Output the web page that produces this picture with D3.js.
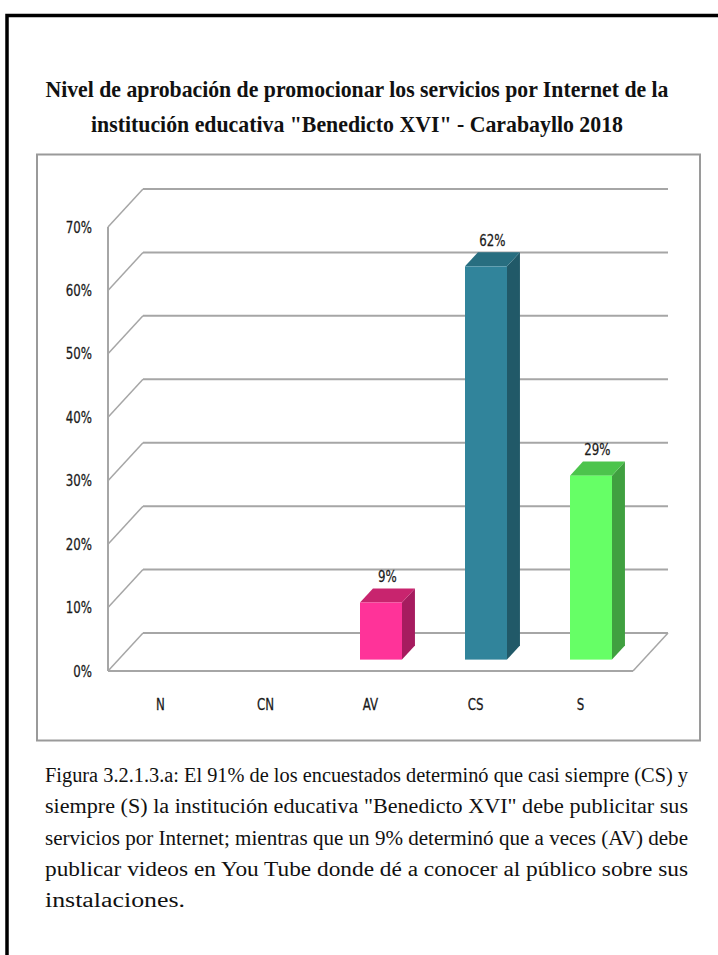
<!DOCTYPE html>
<html>
<head>
<meta charset="utf-8">
<script src="https://cdn.jsdelivr.net/npm/d3@7"></script>
<style>
html,body{margin:0;padding:0;background:#fff;}
svg{display:block;}
</style>
</head>
<body>
<svg id="chart" width="718" height="955"></svg>
<script>
const categories = ["N", "CN", "AV", "CS", "S"];
const values = [0, 0, 0.09, 0.62, 0.29];
const valueLabels = ["0%", "0%", "9%", "62%", "29%"];
const yTicks = [0, 0.1, 0.2, 0.3, 0.4, 0.5, 0.6, 0.7];
const frontColors = ["#ff3399", "#ff3399", "#ff3399", "#31849b", "#66ff66"];
const sideColors = ["#a61c5f", "#a61c5f", "#a61c5f", "#215968", "#40a040"];
const topColors = ["#c8246e", "#c8246e", "#c8246e", "#286e80", "#4cc44c"];
const titleLines = [
  "Nivel de aprobación de promocionar los servicios por Internet de la",
  "institución educativa \"Benedicto XVI\" - Carabayllo 2018"
];
const captionLines = [
  "Figura 3.2.1.3.a: El 91% de los encuestados determinó que casi siempre (CS) y",
  "siempre (S) la institución educativa \"Benedicto XVI\" debe publicitar sus",
  "servicios por Internet; mientras que un 9% determinó que a veces (AV) debe",
  "publicar videos en You Tube donde dé a conocer al público sobre sus",
  "instalaciones."
];

const svg = d3.select("#chart");

// outer frame
svg.append("path").attr("d", "M7,1000 L7,15.5 L730,15.5")
  .attr("fill", "none").attr("stroke", "#000").attr("stroke-width", 3.5);

// title
const titleW = [623, 532];
titleLines.forEach((t, i) => {
  svg.append("text")
    .attr("x", 357).attr("y", 97 + i * 35)
    .attr("text-anchor", "middle")
    .attr("font-family", "Liberation Serif, serif")
    .attr("font-weight", "bold")
    .attr("font-size", 22.5)
    .attr("textLength", titleW[i])
    .attr("lengthAdjust", "spacingAndGlyphs")
    .attr("fill", "#111")
    .text(t);
});

// chart box
svg.append("rect").attr("x", 37).attr("y", 154.5).attr("width", 663).attr("height", 586)
  .attr("fill", "#fff").attr("stroke", "#9a9a9a").attr("stroke-width", 2);

// geometry
const x0 = 108, x1 = 633;
const depthX = 35, depthY = -38;
const x = d3.scaleBand().domain(categories).range([x0, x1]).paddingInner(0).paddingOuter(0);
const y = d3.scaleLinear().domain([0, 0.7]).range([671, 227]);

const g = svg.append("g");
const gridColor = "#a6a6a6";

yTicks.forEach(v => {
  const yf = y(v), yb = y(v) + depthY;
  g.append("line").attr("x1", x0 + depthX).attr("x2", x1 + depthX).attr("y1", yb).attr("y2", yb)
    .attr("stroke", gridColor).attr("stroke-width", 2);
  g.append("line").attr("x1", x0).attr("y1", yf).attr("x2", x0 + depthX).attr("y2", yb)
    .attr("stroke", gridColor).attr("stroke-width", 1.5);
});
g.append("line").attr("x1", x0).attr("x2", x0).attr("y1", y(0.7)).attr("y2", y(0))
  .attr("stroke", gridColor).attr("stroke-width", 2);
g.append("line").attr("x1", x0).attr("x2", x1).attr("y1", y(0)).attr("y2", y(0))
  .attr("stroke", gridColor).attr("stroke-width", 2);
g.append("line").attr("x1", x1).attr("y1", y(0)).attr("x2", x1 + depthX).attr("y2", y(0) + depthY)
  .attr("stroke", gridColor).attr("stroke-width", 1.5);

const labelFont = "DejaVu Sans Condensed, DejaVu Sans, sans-serif";
function smallText(px, py, anchor, txt) {
  return g.append("text")
    .attr("transform", `translate(${px},${py}) scale(0.82,1)`)
    .attr("dy", "0.35em")
    .attr("text-anchor", anchor)
    .attr("font-family", labelFont)
    .attr("font-size", 16).attr("fill", "#1a1a1a")
    .attr("stroke", "#1a1a1a").attr("stroke-width", 0.25)
    .text(txt);
}

yTicks.forEach(v => smallText(92, y(v), "end", d3.format(".0%")(v)));
categories.forEach(c => smallText(x(c) + x.bandwidth() / 2, 704, "middle", c));

const f0 = 0.3, fd = 0.37;
const barW = x.bandwidth() * 0.4;
categories.forEach((c, i) => {
  const v = values[i];
  if (v <= 0) return;
  const ox = depthX * f0, oy = depthY * f0;
  const bx = x(c) + (x.bandwidth() - barW) / 2 + ox;
  const bTop = y(v) + oy, bBot = y(0) + oy;
  const dx = depthX * fd, dy = depthY * fd;
  g.append("path").attr("d", `M${bx + barW},${bTop} L${bx + barW + dx},${bTop + dy} L${bx + barW + dx},${bBot + dy} L${bx + barW},${bBot} Z`)
    .attr("fill", sideColors[i]);
  g.append("path").attr("d", `M${bx},${bTop} L${bx + dx},${bTop + dy} L${bx + barW + dx},${bTop + dy} L${bx + barW},${bTop} Z`)
    .attr("fill", topColors[i]);
  g.append("rect").attr("x", bx).attr("y", bTop).attr("width", barW).attr("height", bBot - bTop)
    .attr("fill", frontColors[i]);
  smallText(bx + barW / 2 + dx / 2, bTop + dy - 12, "middle", valueLabels[i]);
});

const capW = [643, 643, 643, 643, 140];
captionLines.forEach((t, i) => {
  svg.append("text")
    .attr("x", 45).attr("y", 782 + i * 31.3)
    .attr("font-family", "Liberation Serif, serif")
    .attr("font-size", 20.5).attr("fill", "#111")
    .attr("textLength", capW[i]).attr("lengthAdjust", "spacingAndGlyphs")
    .text(t);
});
</script>
</body>
</html>
